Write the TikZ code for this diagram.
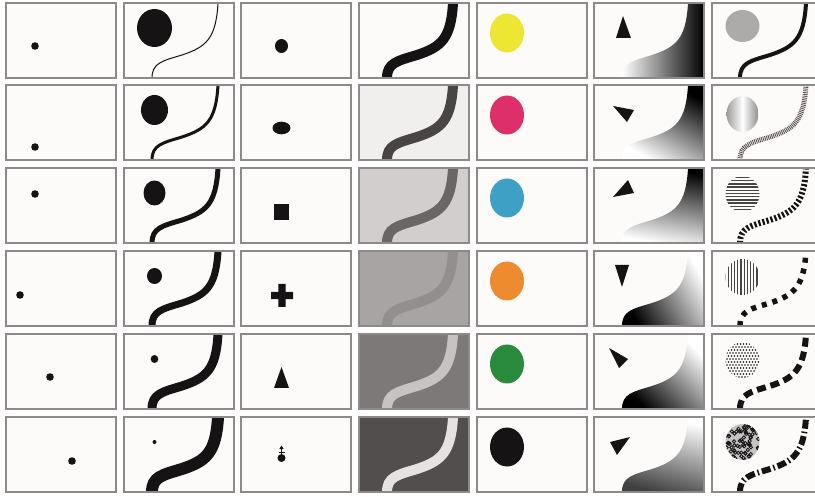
\documentclass[tikz,border=0pt]{standalone}
\usetikzlibrary{patterns}

\definecolor{ink}{HTML}{151313}
\definecolor{paper}{HTML}{FDFBFA}
\definecolor{frame}{HTML}{8E8A8A}
\definecolor{rope}{HTML}{5E5552}
\definecolor{metal}{HTML}{9E9B9B}
\definecolor{stripecol}{HTML}{4A4545}
% value steps
\definecolor{valbgA}{HTML}{F1EEEE}\definecolor{valfgA}{HTML}{4A4545}
\definecolor{valbgB}{HTML}{D3CECE}\definecolor{valfgB}{HTML}{6B6666}
\definecolor{valbgC}{HTML}{A9A4A4}\definecolor{valfgC}{HTML}{948F8F}
\definecolor{valbgD}{HTML}{7E7979}\definecolor{valfgD}{HTML}{C8C3C3}
\definecolor{valbgE}{HTML}{534E4E}\definecolor{valfgE}{HTML}{E6E2E2}
% hues
\definecolor{hueY}{HTML}{EDE632}
\definecolor{hueM}{HTML}{DF2F6B}
\definecolor{hueC}{HTML}{3FA0C6}
\definecolor{hueO}{HTML}{EE8B2F}
\definecolor{hueG}{HTML}{2A8B3D}

\newcommand{\wavepath}{(28,75) .. controls (28,60) and (38,58) .. (58,52) .. controls (82,44) and (92,36) .. (94,0)}

\tikzset{
  rim/.style={draw=frame, line width=1.4pt},
  stripe/.style={draw=stripecol, line width=1.3pt},
  tex1/.style={draw=ink, line width=4pt},
  tex2/.style={draw=rope, line width=5pt, dash pattern=on 0.9pt off 0.9pt},
  tex3/.style={draw=ink, line width=6pt, dash pattern=on 2.2pt off 2pt},
  tex4/.style={draw=ink, line width=5.5pt, dash pattern=on 5pt off 6pt},
  tex5/.style={draw=ink, line width=6pt, dash pattern=on 9pt off 5pt},
  tex6/.style={draw=ink, line width=6pt, dash pattern=on 9pt off 3pt on 1.5pt off 3pt},
}

\begin{document}
\begin{tikzpicture}[x=1pt,y=-1pt]
\useasboundingbox (0,0) rectangle (815,497);
\clip (0,0) rectangle (815,497);
\fill[white] (0,0) rectangle (815,497);

% panel grid
\foreach \c/\x in {1/6,2/124,3/241,4/359,5/477,6/594,7/712}
  \foreach \r/\y in {1/3,2/85,3/168,4/251,5/334,6/417}{
    \coordinate (p\c\r) at (\x,\y);
    \fill[paper] (p\c\r) rectangle ++(110,75);
  }

% position
\foreach \r/\px/\py in {1/29/43,2/29/62,3/29/26,4/14/44,5/44/43,6/66/44}
  \fill[ink,shift={(p1\r)}] (\px,\py) circle (3.8pt);

% size
\foreach \r/\rx/\ry/\w in {1/17.5/19/1,2/13.5/15/3,3/11/12.5/5,4/7.5/8/7,5/3.8/4/9,6/2/2/12}{
  \begin{scope}[shift={(p2\r)}]
    \clip (0,0) rectangle (110,75);
    \fill[ink] (30.5,25) ellipse [x radius=\rx pt, y radius=\ry pt];
    \draw[ink, line width=\w pt] \wavepath;
  \end{scope}}

% shape
\fill[ink,shift={(p31)}] (40.5,43) ellipse [x radius=6.5pt, y radius=7pt];
\fill[ink,shift={(p32)}] (40.5,43) ellipse [x radius=9pt, y radius=6.3pt];
\fill[ink,shift={(p33)}] (33,36) rectangle (48,52);
\fill[ink,shift={(p34)}] (37.3,33) rectangle (44.7,56) (30,40.8) rectangle (52,48.2);
\fill[ink,shift={(p35)}] (40.5,33) -- (48,54) -- (33,54) -- cycle;
\begin{scope}[shift={(p36)}]
  \fill[ink] (40.5,41) circle (4pt);
  \draw[ink, line width=1.6pt] (40.5,41) -- (40.5,31) (37.5,35.5) -- (43.5,35.5);
  \fill[ink] (38.3,32) -- (40.5,28.5) -- (42.7,32) -- cycle;
\end{scope}

% value
\foreach \r/\bg/\fg in {1/paper/ink,2/valbgA/valfgA,3/valbgB/valfgB,4/valbgC/valfgC,5/valbgD/valfgD,6/valbgE/valfgE}{
  \begin{scope}[shift={(p4\r)}]
    \clip (0,0) rectangle (110,75);
    \fill[\bg] (0,0) rectangle (110,75);
    \draw[\fg, line width=10pt] \wavepath;
  \end{scope}}

% hue
\foreach \r/\col in {1/hueY,2/hueM,3/hueC,4/hueO,5/hueG,6/ink}
  \fill[\col,shift={(p5\r)}] (30,30) ellipse [x radius=17pt, y radius=19.5pt];

% orientation
\foreach \r/\ang/\dark in {1/-90/black,2/-30/black,3/-10/black,4/120/black,5/135/black,6/165/black!75}{
  \begin{scope}[shift={(p6\r)}]
    \clip (0,0) rectangle (110,75);
    \shade[top color=\dark, bottom color=white, shading angle=\ang] \wavepath -- (110,0) -- (110,75) -- cycle;
  \end{scope}}
\foreach \r/\ta/\tb/\tc in {1/{29,13}/{22,35}/{37,35},2/{19,21}/{40,25}/{33,37},3/{19,29}/{34,12}/{40,25},
    4/{21,14}/{35,14}/{28,36},5/{15,14}/{34,25}/{25,34},6/{16,25}/{36,20}/{23,38}}
  \fill[ink,shift={(p6\r)}] (\ta) -- (\tb) -- (\tc) -- cycle;

% texture
\fill[metal!85,shift={(p71)}] (30.5,23) ellipse [x radius=17pt, y radius=16pt];
\shade[left color=metal, right color=metal!90!black, middle color=white, shift={(p72)}] (30.5,29) ellipse [x radius=16pt, y radius=18pt];
\begin{scope}[shift={(p73)}]
  \clip (30.5,26) ellipse [x radius=17pt, y radius=18pt];
  \foreach \k in {0,...,11} \draw[stripe] (10,9.5+3.2*\k) -- (50,9.5+3.2*\k);
\end{scope}
\begin{scope}[shift={(p74)}]
  \clip (30.5,26) ellipse [x radius=17pt, y radius=18pt];
  \foreach \k in {0,...,11} \draw[stripe] (13+3.2*\k,5) -- (13+3.2*\k,47);
\end{scope}
\begin{scope}[shift={(p75)}]
  \clip (30.5,26) ellipse [x radius=17pt, y radius=18pt];
  \foreach \i in {0,...,12}
    \foreach \j in {0,...,12}
      \fill[ink] ({12+3*\i+1.5*mod(\j,2)},{7+3*\j}) circle (0.95pt);
\end{scope}
\begin{scope}[shift={(p76)}]
  \pgfmathsetseed{7}
  \clip (30.5,25) ellipse [x radius=17pt, y radius=18pt];
  \fill[metal!60] (30.5,25) ellipse [x radius=17pt, y radius=18pt];
  \foreach \k in {1,...,80} \draw[ink, line width=0.8pt] (30.5+17*rand,25+18*rand) circle (1.7pt);
\end{scope}
\foreach \r in {1,...,6}{
  \begin{scope}[shift={(p7\r)}]
    \clip (0,0) rectangle (110,75);
    \draw[tex\r] \wavepath;
  \end{scope}}

% frames
\foreach \c in {1,...,7}
  \foreach \r in {1,...,6}
    \draw[rim] (p\c\r) rectangle ++(110,75);
\end{tikzpicture}
\end{document}
